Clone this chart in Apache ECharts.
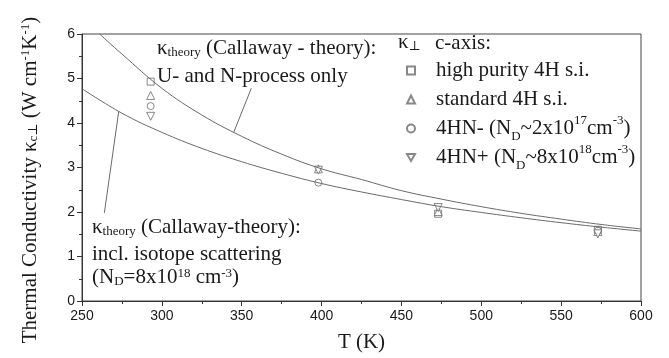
<!DOCTYPE html>
<html><head><meta charset="utf-8">
<script src="https://cdn.jsdelivr.net/npm/echarts@6/dist/echarts.min.js"></script>
<style>html,body{margin:0;padding:0;background:#fff}#c{width:669px;height:358px}</style>
</head><body><div id="c"></div>
<script>
// Theory curves (T in K, kappa in W/cmK)
const theoryUN_T = [261, 275, 300, 325, 350, 375, 400, 425, 450, 475, 500, 525, 550, 575, 600];
const theoryUN_K = [6.00, 5.55, 4.78, 4.18, 3.70, 3.30, 2.97, 2.73, 2.48, 2.29, 2.12, 1.97, 1.84, 1.72, 1.62];
const theoryIso_T = [250, 275, 300, 325, 350, 375, 400, 425, 450, 475, 500, 525, 550, 575, 600];
const theoryIso_K = [4.77, 4.22, 3.79, 3.43, 3.13, 2.87, 2.64, 2.45, 2.28, 2.12, 1.99, 1.87, 1.76, 1.66, 1.57];
// Measured points
const highPurity_T = [293, 473, 573];
const highPurity_K = [4.93, 1.96, 1.60];
const standard_T = [293, 398, 473, 573];
const standard_K = [4.62, 2.97, 2.01, 1.56];
const hn_minus_T = [293, 398, 573];
const hn_minus_K = [4.38, 2.66, 1.58];
const hn_plus_T = [293, 398, 473, 573];
const hn_plus_K = [4.15, 2.94, 2.10, 1.51];
const xTicks = [250, 300, 350, 400, 450, 500, 550, 600];
const yTicks = [0, 1, 2, 3, 4, 5, 6];

const zip = (a, b) => a.map((v, i) => [v, b[i]]);
const serif = '"Liberation Serif", "DejaVu Serif", serif';
const sans = '"Liberation Sans", Arial, sans-serif';
const gray = '#6a6a6a';
const txt = '#1a1a1a';
const rich = {
  sub: { fontSize: 13, verticalAlign: 'bottom', lineHeight: 13, fontFamily: serif, color: txt },
  sup: { fontSize: 13, verticalAlign: 'top', lineHeight: 13, fontFamily: serif, color: txt }
};
const downTri = 'path://M0,0 L10,0 L5,8.66 Z';
const mk = { color: '#fff', borderColor: gray, borderWidth: 1 };
const F = '21px ' + serif;

const chart = echarts.init(document.getElementById('c'), null, { renderer: 'canvas' });
chart.setOption({
  animation: false,
  backgroundColor: '#fff',
  grid: { left: 82, right: 28, top: 34, bottom: 50, show: true, borderColor: '#444', borderWidth: 1 },
  xAxis: {
    type: 'value', min: xTicks[0], max: xTicks[xTicks.length - 1], interval: 50,
    name: 'T (K)', nameLocation: 'middle', nameGap: 31,
    nameTextStyle: { fontFamily: serif, fontSize: 21, color: txt },
    axisLine: { lineStyle: { color: '#333' } },
    axisTick: { inside: false, length: 5, lineStyle: { color: '#333' } },
    minorTick: { show: true, splitNumber: 2, length: 3, lineStyle: { color: '#333' } },
    splitLine: { show: false },
    axisLabel: { fontFamily: sans, fontSize: 14, color: txt, margin: 8 }
  },
  yAxis: {
    type: 'value', min: yTicks[0], max: yTicks[yTicks.length - 1], interval: 1,
    axisLine: { lineStyle: { color: '#333' } },
    axisTick: { inside: false, length: 5, lineStyle: { color: '#333' } },
    minorTick: { show: true, splitNumber: 2, length: 3, lineStyle: { color: '#333' } },
    splitLine: { show: false },
    axisLabel: { fontFamily: sans, fontSize: 14, color: txt, margin: 7 }
  },
  legend: {
    orient: 'vertical', left: 401, top: 51, itemWidth: 8, itemHeight: 8, itemGap: 0,
    data: ['high purity 4H s.i.', 'standard 4H s.i.', 'hnm', 'hnp'],
    formatter: function (n) {
      if (n === 'hnm') return '4HN- (N{sub|D}~2x10{sup|17}cm{sup|-3})';
      if (n === 'hnp') return '4HN+ (N{sub|D}~8x10{sup|18}cm{sup|-3})';
      return n;
    },
    textStyle: { fontFamily: serif, fontSize: 21, color: txt, lineHeight: 29, padding: [0, 0, 0, 16], rich: rich }
  },
  graphic: [
    { type: 'text', x: 30, y: 180, rotation: Math.PI / 2,
      style: { text: 'Thermal Conductivity κ{sub|c⊥} (W cm{sup|-1}K{sup|-1})', rich: rich, font: F, fill: txt,
        align: 'center', verticalAlign: 'middle' } },
    { type: 'text', left: 398, top: 32, style: { text: 'κ{sub|⊥}', rich: rich, font: F, fill: txt } },
    { type: 'text', left: 435, top: 33, style: { text: 'c-axis:', font: F, fill: txt } },
    { type: 'text', left: 157, top: 38, style: { text: 'κ{sub|theory} (Callaway - theory):', rich: rich, font: F, fill: txt } },
    { type: 'text', left: 157, top: 66, style: { text: 'U- and N-process only', font: F, fill: txt } },
    { type: 'text', left: 92, top: 217, style: { text: 'κ{sub|theory} (Callaway-theory):', rich: rich, font: F, fill: txt } },
    { type: 'text', left: 92, top: 244, style: { text: 'incl. isotope scattering', font: F, fill: txt } },
    { type: 'text', left: 92, top: 267, style: { text: '(N{sub|D}=8x10{sup|18} cm{sup|-3})', rich: rich, font: F, fill: txt } }
  ],
  series: [
    {
      name: 'theoryUN', type: 'line', data: zip(theoryUN_T, theoryUN_K), smooth: 0.4, symbol: 'none',
      lineStyle: { color: gray, width: 1 }, clip: true,
      markLine: { silent: true, symbol: 'none', label: { show: false }, lineStyle: { color: gray, width: 1, type: 'solid' },
        data: [[{ coord: [356, 4.78] }, { coord: [345, 3.79] }]] }
    },
    {
      name: 'theoryIso', type: 'line', data: zip(theoryIso_T, theoryIso_K), smooth: 0.4, symbol: 'none',
      lineStyle: { color: gray, width: 1 }, clip: true,
      markLine: { silent: true, symbol: 'none', label: { show: false }, lineStyle: { color: gray, width: 1, type: 'solid' },
        data: [[{ coord: [264, 1.98] }, { coord: [273, 4.26] }]] }
    },
    { name: 'high purity 4H s.i.', type: 'scatter', symbol: 'rect', symbolSize: 7, itemStyle: mk, data: zip(highPurity_T, highPurity_K) },
    { name: 'standard 4H s.i.', type: 'scatter', symbol: 'triangle', symbolSize: 8, itemStyle: mk, data: zip(standard_T, standard_K) },
    { name: 'hnm', type: 'scatter', symbol: 'circle', symbolSize: 7, itemStyle: mk, data: zip(hn_minus_T, hn_minus_K) },
    { name: 'hnp', type: 'scatter', symbol: downTri, symbolSize: 8, itemStyle: mk, data: zip(hn_plus_T, hn_plus_K) }
  ]
});
</script></body></html>
